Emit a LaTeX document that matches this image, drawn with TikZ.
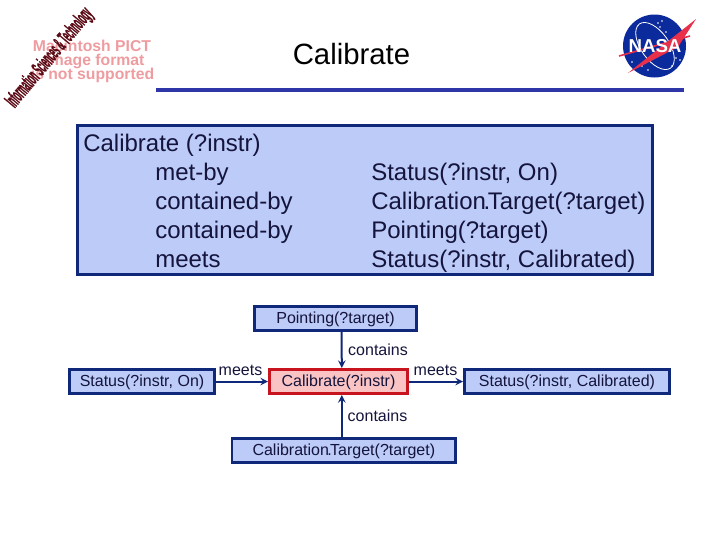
\documentclass[tikz,border=0pt]{standalone}
\usepackage{xcolor}
\usepackage{fontspec}
\setmainfont{Liberation Sans}
\usepackage{tikz}
\usetikzlibrary{shapes, positioning, calc}
\definecolor{boxfill}{HTML}{BCCBF7}
\definecolor{boxline}{HTML}{10287A}
\definecolor{redfill}{HTML}{FBC4C4}
\definecolor{redline}{HTML}{C8141E}
\definecolor{rulecol}{HTML}{2E36A8}
\definecolor{inktext}{HTML}{14143C}
\definecolor{pictpink}{HTML}{EE9CA0}
\definecolor{logored}{HTML}{5A0A14}
\definecolor{nasablue}{HTML}{0B2A9C}
\definecolor{nasared}{HTML}{E8304A}
\newfontfamily\heavyfont[FakeBold=2]{Liberation Sans Bold}

\begin{document}
\begin{tikzpicture}[
    x = 0.75pt, y = -0.75pt,
    > = latex, align=center,
    interval/.style = {
      rectangle, draw = boxline, fill = boxfill, line width = 1.9pt,
      inner sep = 0pt, minimum height = 18.35pt, text = inktext,
      text height = 10.8pt, text depth = 2.6pt,
      font = \fontsize{12}{14}\selectfont
    },
    goal/.style = {
      interval, draw = redline, fill = redfill
    },
    path/.style = {
      arrows = ->, line width = 1.5pt, draw = boxline, > = {stealth[]}
    },
    relation/.style = {
      inner sep = 0pt, text = inktext, font = \fontsize{12}{14}\selectfont
    },
    listing/.style = {
      inner sep = 0pt, align = left, text = inktext,
      font = \fontsize{18}{21.75}\selectfont
    },
    pict/.style = {
      inner sep = 0pt, text = pictpink, font = \bfseries\fontsize{11.8}{11}\selectfont
    },
    star/.style = {
      white, radius = 0.8
    },
    ]
    \useasboundingbox  (0,0)  rectangle  (720,540);

    % draw title
    \node  [inner sep = 0pt, text = black, font = \fontsize{22}{26}\selectfont]  (title)  at  (351.5,54)  {Calibrate};
    \node  [rectangle, fill = rulecol, inner sep = 0pt, minimum width = 396pt, minimum height = 3pt]  (titlerule)  at  (420,90)  {};

    % draw left logo
    \node  [pict]  (pict1)  at  (92,46)  {Macintosh PICT};
    \node  [pict]  (pict2)  at  (95,61)  {Image format};
    \node  [pict]  (pict3)  at  (92.5,75.5)  {is not supported};
    \node  [inner sep = 0pt, rotate = 50, transform shape, xscale = 0.34, text = logored,
      font = \heavyfont\fontsize{16}{16}\selectfont]  (sciences)  at  (50,58)  {Information Sciences \& Technology};

    % draw right logo
    \node  [circle, fill = nasablue, inner sep = 0pt, minimum size = 47.25pt]  (nasa)  at  (654.5,46)  {};
    \draw  [white, line width = 0.6pt, rotate around = {35:(655,46)}]  (655,46)  ellipse  [x radius = 14, y radius = 27];
    \foreach \sx/\sy in {658/23, 662/21, 660/27, 666/32, 632/62, 642/66, 648/70, 676/58, 680/60, 672/66}
    \fill  [star]  (\sx,\sy)  circle;
    \draw  [nasared, line width = 1.2pt]  (619,56)  to  (690,36);
    \fill  [nasared]  (628,73)  to  (696,19)  to  (678,47)  to  cycle;
    \node  [inner sep = 0pt, text = white, font = \bfseries\fontsize{14}{14}\selectfont]  (nasatext)  at  (655,46)  {NASA};

    % draw listing
    \node  [rectangle, draw = boxline, fill = boxfill, line width = 1.9pt, inner sep = 0pt,
      minimum width = 431.6pt, minimum height = 112.1pt]  (frame)  at  (365,200)  {};
    \node  [listing, anchor = north west]  (decl)  at  (83,133.5)  {Calibrate (?instr)\\
      \hspace{54pt}met-by\\
      \hspace{54pt}contained-by\\
      \hspace{54pt}contained-by\\
      \hspace{54pt}meets};
    \node  [listing, anchor = north west]  (conds)  at  (371,162.5)  {Status(?instr, On)\\
      Calibration\kern-1.8pt.\kern-1.8pt Target(?target)\\
      Pointing(?target)\\
      Status(?instr, Calibrated)};

    % draw nodes
    \node  [goal, minimum width = 103.85pt]  (calibrate)  at  (338.5,381.5)  {Calibrate(?instr)};
    \node  [interval, minimum width = 121.85pt]  (pointing)  [above = 27pt of calibrate, xshift = -2.25pt]  {Pointing(?target)};
    \node  [interval, minimum width = 167.6pt]  (target)  [below = 31.5pt of calibrate, xshift = 4pt]  {Calibration\kern-1.2pt.\kern-1.2pt Target(?target)};
    \node  [interval, minimum width = 109.1pt]  (before)  [left = 39pt of calibrate]  {Status(?instr, On)};
    \node  [interval, minimum width = 154.1pt]  (after)  [right = 40.5pt of calibrate]  {Status(?instr, Calibrated)};

    % draw paths
    \draw  [path]  ([xshift = 4.5pt]pointing.south)  to  ([xshift = 2.5pt]calibrate.north);
    \draw  [path]  ([xshift = -1.5pt]target.north)  to  ([xshift = 2.5pt]calibrate.south);
    \draw  [path]  (before)  to  (calibrate);
    \draw  [path]  (calibrate)  to  (after);

    % draw labels
    \node  [relation]  (lblpointing)  at  (378,350)  {contains};
    \node  [relation]  (lbltarget)  at  (377.5,416)  {contains};
    \node  [relation]  (lblbefore)  at  (240.5,370)  {meets};
    \node  [relation]  (lblafter)  at  (435.5,370)  {meets};
\end{tikzpicture}
\end{document}
